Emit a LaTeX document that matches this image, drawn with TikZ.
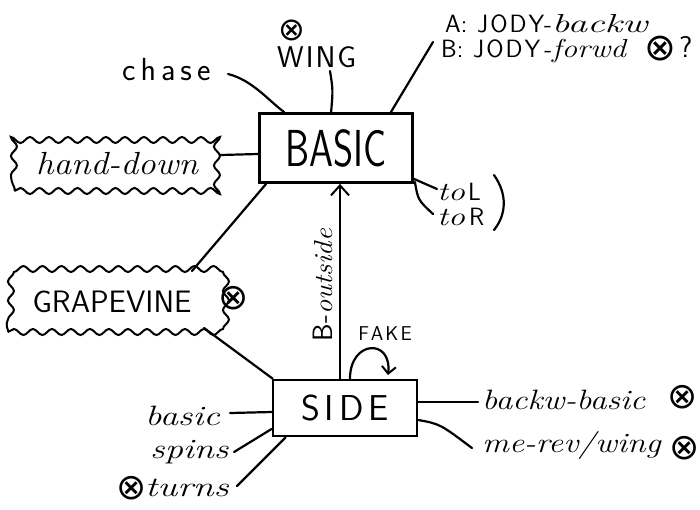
\documentclass[tikz,border=0pt]{standalone}
\usepackage{fontspec}
\usepackage{graphicx}
\newfontfamily\dv{DejaVu Sans}
\usetikzlibrary{arrows.meta,decorations.pathmorphing,calc}
\newcommand\hs[2]{\scalebox{#1}[1]{#2}}
\newcommand\ox[1]{{\dv\fontsize{#1}{#1}\selectfont\raisebox{0pt}[0.7em][0.04em]{⊗}}}
\newcommand\capsf[2]{{\sffamily\fontsize{#1}{#1}\selectfont #2}}
\newcommand\curf[3]{{\itshape\fontsize{#1}{#1}\selectfont\hs{#2}{#3}}}
\begin{document}
\begin{tikzpicture}[x=1pt,y=-1pt,
 box/.style={draw, line width=2.8pt, inner sep=0pt},
 cloudbox/.style={draw, line width=2pt, decorate, decoration={snake, amplitude=3pt, segment length=19pt}, inner sep=0pt},
 lnk/.style={line width=2.2pt, line cap=round},
 lbl/.style={inner sep=0pt, anchor=base west},
 plain/.style={inner sep=0pt}
]
\useasboundingbox (0,0) rectangle (700,509);
\fill[white] (0,0) rectangle (700,509);

% boxes
\node[box, minimum width=153pt, minimum height=69pt] (basic) at (336,148) {\capsf{52}{\hs{0.74}{BASIC}}};
\node[box, minimum width=144pt, minimum height=56pt] (side) at (345,408) {\capsf{36}{S\kern5pt I\kern5pt D\kern5pt E}};
\node[cloudbox, minimum width=205pt, minimum height=54pt] (hand) at (117,164) {\curf{32}{1.1}{hand-down}};
\node[cloudbox, minimum width=208pt, minimum height=60pt] (grape) at (112,302) {\capsf{31}{GRAPEVINE}};

% labels
\node[lbl] (chase) at (122,80) {\capsf{32}{c\kern5pt h\kern5pt a\kern5pt s\kern5pt e}};
\node[inner sep=0pt, anchor=south west, align=left, font=\fontsize{30}{20}\selectfont] (wing) at (277,68) {\kern1pt\ox{32}\\[4pt]\capsf{30}{W\kern2pt I\kern2pt N\kern2pt G}};
\node[lbl] (la) at (445,32) {\capsf{25}{A:\kern2pt\ J\kern2pt O\kern2pt D\kern2pt Y-}\curf{26}{1.5}{backw}};
\node[lbl] (lb) at (441,57) {\capsf{25}{B:\kern2pt\ J\kern2pt O\kern2pt D\kern2pt Y\,-}\curf{26}{1.2}{forwd}};
\node[plain] (oxq) at (660,48) {\ox{38}};
\node[lbl] (q) at (679,57) {\capsf{30}{?}};
\node[plain] (oxg) at (234,298) {\ox{36}};
\node[plain, rotate=90] (bout) at (323,285) {\capsf{28}{B-}\curf{26}{1.1}{outside}};
\node[plain] (fake) at (385,334) {\capsf{20}{F\kern2pt A\kern2pt K\kern2pt E}};
\node[lbl] (tol) at (437,200) {\curf{26}{1.3}{to}\kern3pt\capsf{25}{L}};
\node[lbl] (tor) at (437,225) {\curf{26}{1.3}{to}\kern4pt\capsf{25}{R}};
\node[lbl] (sbasic) at (145,425) {\curf{28}{1.3}{basic}};
\node[lbl] (spins) at (150,458) {\curf{28}{1.3}{spins}};
\node[plain] (oxt) at (132,488) {\ox{36}};
\node[lbl] (turns) at (145,496) {\curf{28}{1.35}{turns}};
\node[lbl] (bb) at (482,409) {\curf{28}{1.2}{backw-basic}};
\node[plain] (oxb) at (683,397) {\ox{36}};
\node[lbl] (mr) at (482,452) {\curf{28}{1.2}{me-rev/wing}};
\node[plain] (oxm) at (685,448) {\ox{36}};

% connector ends
\coordinate (cE) at (228,74);
\coordinate (wS) at (330,71);
\coordinate (abS) at (433,42);
\coordinate (tlW) at (437,189);
\coordinate (trW) at (433,214);
\coordinate (sbE) at (230,413);
\coordinate (spE) at (234,452);
\coordinate (tuE) at (237,486);
\coordinate (bbW) at (478,402);
\coordinate (mrW) at (472,448);

% connectors
\draw[lnk] (cE) .. controls (252,80) and (268,100) .. ([xshift=26pt]basic.north west);
\draw[lnk] (wS) .. controls (333,90) .. ([xshift=73pt]basic.north west);
\draw[lnk] (abS) -- ([xshift=-23pt]basic.north east);
\draw[lnk] ([yshift=9pt]hand.east) -- ([yshift=-6pt]basic.west);
\draw[lnk] ([xshift=8pt]basic.south west) -- ([xshift=80pt]grape.north);
\draw[lnk] ([xshift=-13pt,yshift=5pt]grape.south east) -- ([xshift=1pt]side.north west);
\draw[lnk, -{Straight Barb[length=10pt,width=18pt,line width=2pt]}] ([xshift=-5pt]side.north) -- ([xshift=4pt]basic.south);
\draw[lnk, -{Straight Barb[length=7pt,width=14pt,line width=2pt]}] ([xshift=5pt]side.north) .. controls (350,340) and (392,338) .. (388,375);
\draw[lnk] ([yshift=5pt]basic.south east) -- (tlW);
\draw[lnk] ([xshift=1pt,yshift=2pt]basic.south east) .. controls (418,200) .. (trW);
\draw[lnk] (494,175) .. controls (508,195) and (506,215) .. (494,230);
\draw[lnk] (sbE) -- ([yshift=-4pt]side.west);
\draw[lnk] (spE) -- ([yshift=-21pt]side.west);
\draw[lnk] (tuE) -- ([xshift=14pt]side.south west);
\draw[lnk] ([yshift=6pt]side.east) -- (bbW);
\draw[lnk] ([yshift=-12pt]side.east) .. controls (440,424) .. (mrW);
\end{tikzpicture}
\end{document}
